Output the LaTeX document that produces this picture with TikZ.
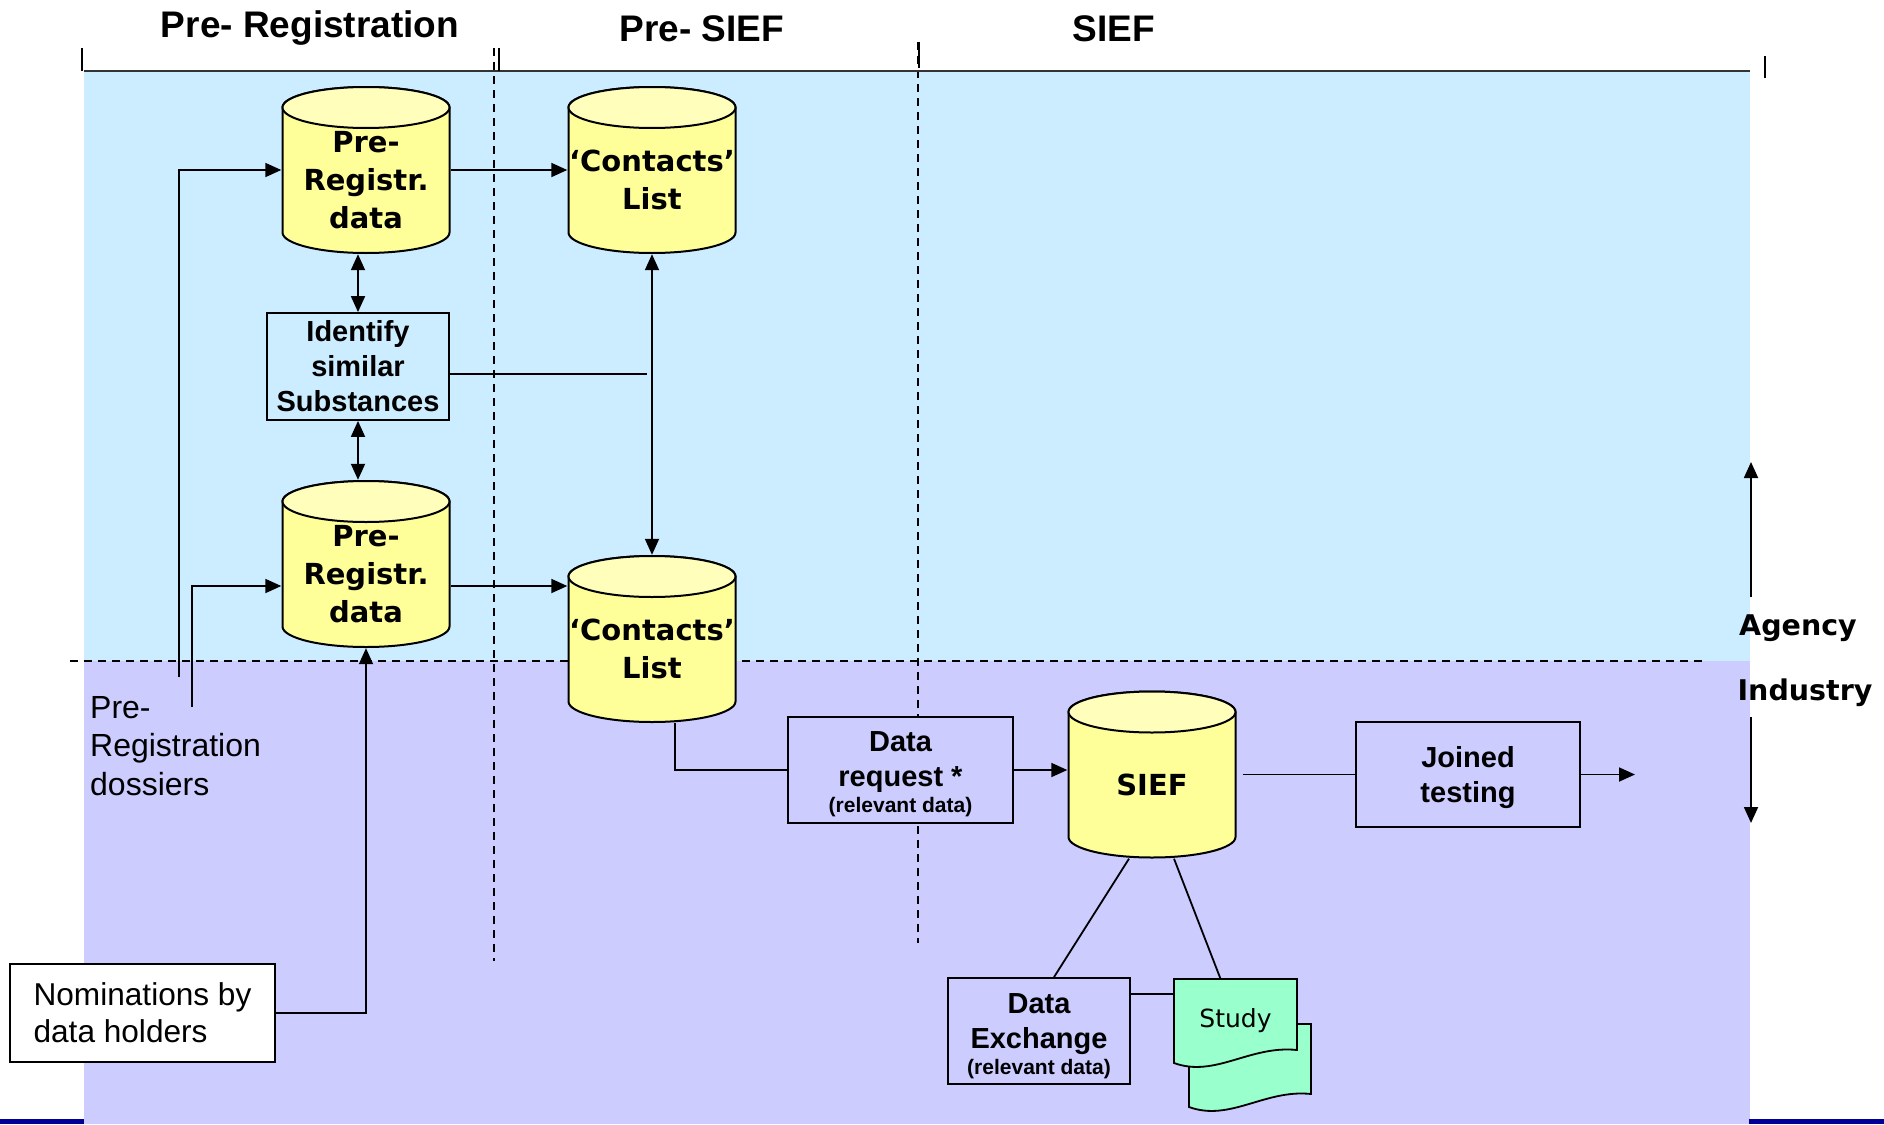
\documentclass[tikz,border=0pt]{standalone}
\usepackage{fontspec}
\setmainfont{Liberation Sans}
\newfontfamily\verd{DejaVu Sans}
\usetikzlibrary{arrows.meta,positioning}
\definecolor{agencyblue}{HTML}{CCECFF}
\definecolor{industryblue}{HTML}{CCCCFF}
\definecolor{dbyellow}{HTML}{FFFF99}
\definecolor{dbtop}{HTML}{FFFFBB}
\definecolor{studygreen}{HTML}{99FFCC}
\definecolor{stripblue}{HTML}{000099}

\begin{document}
\begin{tikzpicture}[x=1pt,y=-1pt,
	db/.style={rectangle, minimum width=169pt, minimum height=168pt, inner sep=0pt, align=center, font=\verd\bfseries\fontsize{29}{38}\selectfont},
	procbox/.style={draw, line width=1.8pt, inner sep=0pt, align=center, font=\bfseries\fontsize{29}{35}\selectfont},
	link/.style={line width=1.8pt},
	flow/.style={link, -{Triangle[length=16pt,width=14pt]}},
	twoway/.style={link, {Triangle[length=16pt,width=14pt]}-{Triangle[length=16pt,width=14pt]}},
	phaseline/.style={line width=1.5pt, dash pattern=on 8pt off 6pt},
	phase/.style={font=\bfseries\fontsize{37}{40}\selectfont},
	sidehead/.style={inner sep=0pt, font=\verd\bfseries\fontsize{28.5}{32}\selectfont}]
\useasboundingbox[fill=white] (0,0) rectangle (1884,1124);
\fill[agencyblue] (84,71) rectangle (1750,661);
\fill[industryblue] (84,661) rectangle (1750,1124);
\fill[stripblue] (0,1119) rectangle (84,1124);
\fill[stripblue] (1749,1119) rectangle (1884,1124);

\draw[phaseline] (494,48) -- (494,961);
\draw[phaseline] (918,42) -- (918,943);
\draw[phaseline] (70,661) -- (1702,661);
\draw[line width=2.5pt, black!80] (84,71) -- (1750,71);
\foreach \tx/\ta/\tb in {82/48/71, 499/48/71, 919/42/68, 1765/56/78}
	\draw[line width=2pt] (\tx,\ta) -- (\tx,\tb);

\node[phase, anchor=base] (hreg) at (310,38) {Pre- Registration};
\node[phase, anchor=base] (hpre) at (702,42) {Pre- SIEF};
\node[phase, anchor=base] (hsief) at (1114,42) {SIEF};

\foreach \cx/\cy in {366/170, 652/170, 366/564, 652/639, 1152/774.5}{
	\filldraw[shift={(\cx,\cy)}, fill=dbyellow, line width=2pt] (-83.5,-62.5) -- (-83.5,62.5) arc[start angle=180, end angle=0, x radius=83.5, y radius=20.5] -- (83.5,-62.5) arc[start angle=0, end angle=-180, x radius=83.5, y radius=20.5] -- cycle;
	\filldraw[shift={(\cx,\cy)}, fill=dbtop, line width=2pt] (0,-62.5) ellipse [x radius=83.5, y radius=20.5];
}

\node[db] (reg1) at (366,170) {\rule{0pt}{41pt}Pre-\\Registr.\\data};
\node[db] (con1) at (652,170) {\rule{0pt}{41pt}‘Contacts’\\List};
\node[db] (reg2) at (366,564) {\rule{0pt}{41pt}Pre-\\Registr.\\data};
\node[db] (con2) at (652,639) {\rule{0pt}{41pt}‘Contacts’\\List};
\node[db] (sief) at (1152,774.5) {\rule{0pt}{43pt}SIEF};

\node[procbox, fill=agencyblue, minimum width=182pt, minimum height=107pt] (ident) at (358,366.5) {Identify\\similar\\Substances};
\node[procbox, fill=industryblue, minimum width=225pt, minimum height=106pt] (dreq) at (900.5,770) {\rule{0pt}{29pt}Data\\request *\\[-9pt]{\fontsize{21}{24}\selectfont (relevant data)}};
\node[procbox, fill=industryblue, minimum width=224pt, minimum height=105pt] (joined) at (1468,774.5) {\rule{0pt}{28pt}Joined\\testing};
\node[procbox, fill=industryblue, minimum width=182pt, minimum height=106pt] (dex) at (1039,1031) {\rule{0pt}{30pt}Data\\Exchange\\[-9pt]{\fontsize{21}{24}\selectfont (relevant data)}};
\node[draw, fill=white, line width=1.8pt, minimum width=265pt, minimum height=98pt, align=left, font=\fontsize{31.6}{37}\selectfont] (nom) at (142.5,1013) {Nominations by\\data holders};
\node[anchor=west, inner sep=0pt, align=left, font=\fontsize{32}{38.5}\selectfont] (dossiers) at (90,746) {Pre-\\Registration\\dossiers};

\fill[studygreen, draw=black, line width=1.8pt] (1189,1024) -- (1311,1024) -- (1311,1094) .. controls (1265,1089) and (1230,1122) .. (1189,1107) -- cycle;
\fill[studygreen, draw=black, line width=1.8pt] (1174,979) -- (1297,979) -- (1297,1050) .. controls (1250,1045) and (1215,1078) .. (1174,1063) -- cycle;
\node[minimum width=123pt, minimum height=71pt, inner sep=0pt, font=\verd\fontsize{25}{28}\selectfont] (study) at (1235.5,1014.5) {\rule{0pt}{31pt}Study};

\node[sidehead] (agency) at (1798,628) {Agency};
\node[sidehead] (industry) at (1805,693) {Industry};
\coordinate (agfrom) at (1751,597);
\coordinate (agtop) at (1751,462);
\coordinate (infrom) at (1751,717);
\coordinate (inbot) at (1751,823);
\draw[flow] (agfrom) -- (agtop);
\draw[flow] (infrom) -- (inbot);

\coordinate (dos1) at (179,677);
\coordinate (dos2) at (192,707);
\coordinate (tap) at (647,374);
\coordinate (jout) at (1635,774.5);
\draw[flow] (dos1) |- (reg1.west);
\draw[flow] (dos2) |- ([yshift=-22pt]reg2.west);
\draw[flow] (reg1.east) -- (con1.west);
\draw[flow] ([yshift=-22pt]reg2.east) -- ([yshift=-22pt]reg2.east -| con2.west);
\draw[twoway] (ident.north) -- (ident.north |- reg1.south);
\draw[twoway] (ident.south) -- (ident.south |- reg2.north);
\draw[twoway] (con1.south) -- (con2.north);
\draw[link] (ident.east |- tap) -- (tap);
\draw[flow] (nom.east) -| (reg2.south);
\draw[link] ([xshift=23pt]con2.south) |- (dreq.west);
\draw[flow] (dreq.east) -- (dreq.east -| sief.west);
\draw[link] ([xshift=6pt]sief.east) -- (joined.west);
\draw[flow] (joined.east) -- (jout);
\draw[link] ([xshift=-23pt]sief.south) -- ([xshift=15pt]dex.north);
\draw[link] ([xshift=22pt]sief.south) -- ([xshift=-15pt]study.north);
\draw[link] ([yshift=37pt]dex.east) -- ([yshift=37pt]dex.east -| study.west);
\end{tikzpicture}
\end{document}
